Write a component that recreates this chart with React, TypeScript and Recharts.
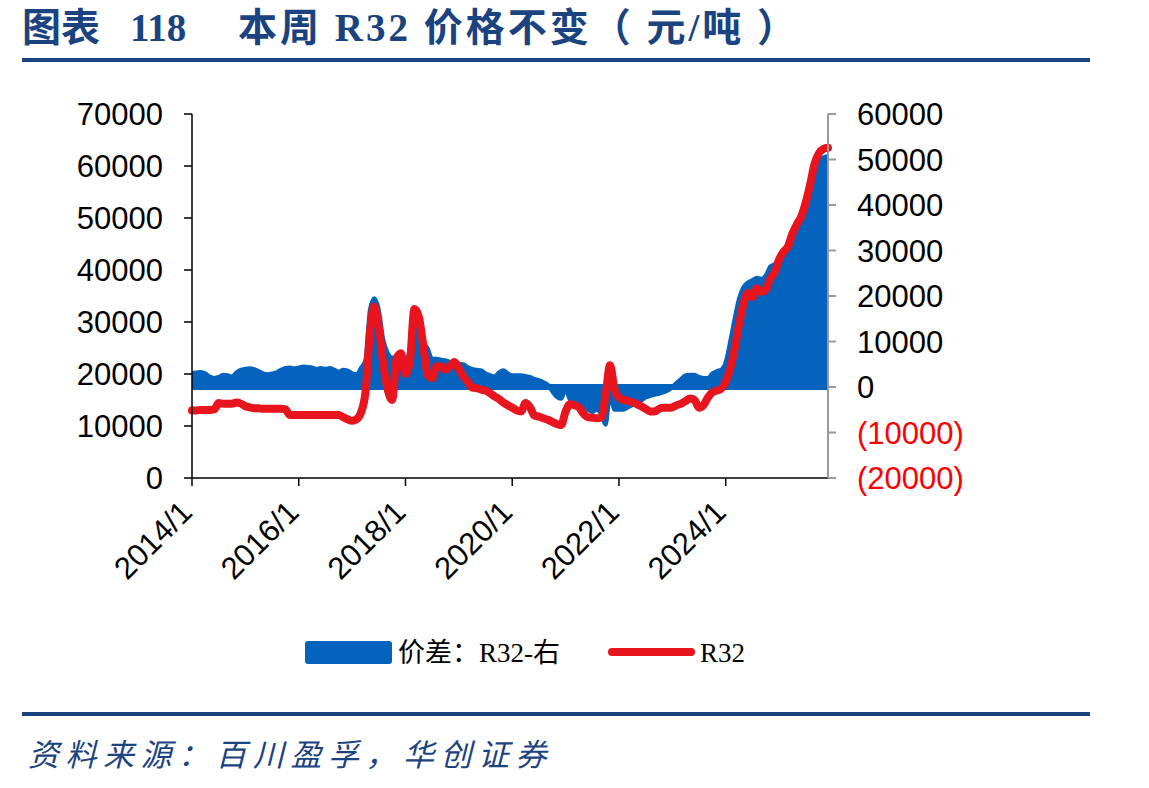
import { ComposedChart, Area, Line, XAxis, YAxis, ReferenceLine } from "recharts";

// monthly readings, 2014/1 .. 2025/12
const START_YEAR = 2014;

// R32 price, yuan/ton (left axis)
const r32 = [
  13000, 13000, 13100, 13100, 13100, 13200, 14400, 14300, 14300, 14300, 14500, 14300,
  13800, 13600, 13400, 13400, 13300, 13300, 13300, 13300, 13300, 13200, 12100, 12100,
  12100, 12100, 12100, 12100, 12100, 12100, 12100, 12100, 12100, 12100, 11700, 11300,
  11000, 11300, 12600, 16500, 28000, 33000, 29000, 22000, 17000, 15000, 23000, 24000,
  20000, 22500, 32500, 31000, 25500, 19800, 19200, 21500, 21500, 20800, 21500, 22300,
  21000, 19500, 18500, 17400, 17300, 17000, 16800, 16300, 15700, 15200, 14500, 14000,
  13500, 13000, 12800, 14400, 13600, 12000, 11800, 11500, 11200, 10800, 10400, 10200,
  12800, 14200, 14000, 13600, 12400, 11700, 11600, 11500, 11600, 16000, 21700, 17000,
  15500, 15000, 14900, 14600, 14200, 13800, 13300, 12800, 12800, 13300, 13500, 13500,
  13600, 14000, 14300, 14800, 15300, 15000, 13500, 14000, 15500, 16500, 16800, 17200,
  18500, 21000, 24800, 29500, 33500, 35600, 34800, 36500, 35800, 36200, 38300, 39500,
  42000, 43500, 44500, 47000, 48800, 50300, 53000, 56500, 60500, 62500, 63300, 63500,
];

// spread vs. R32 cost, yuan/ton (right axis)
const spread = [
  3100, 3200, 3300, 3000, 2300, 2000, 2200, 2700, 2600, 2300, 3200, 3800,
  4000, 4100, 3900, 3500, 3000, 2800, 3000, 3200, 3800, 4200, 4300, 4100,
  4300, 4500, 4400, 4300, 4000, 4200, 4000, 4200, 3800, 3400, 3800, 3600,
  3000, 2800, 4200, 6000, 17000, 19500, 17000, 10500, 7500, 6500, 6500, 7000,
  6000, 8000, 14000, 16000, 10000, 8500, 6200, 6200, 6000, 5900, 5500, 5300,
  5100, 5000, 4400, 4000, 3800, 3700, 3000, 2600, 2300, 3200, 3700, 3000,
  2600, 2600, 2600, 2400, 2200, 1800, 1500, 1100, 500, -1000, -2200, -2600,
  -600, -2800, -3200, -4200, -4500, -5000, -5500, -5000, -6000, -8300, -2000, -5000,
  -5000, -5000, -4500, -4000, -3500, -3000, -2300, -2000, -1700, -1500, -1200, -800,
  0, 1000, 1800, 2600, 2700, 2700, 2200, 2000, 2000, 3000, 3500, 3800,
  5500, 10000, 15000, 19500, 22000, 23000, 23500, 24000, 23800, 24500, 26500, 27000,
  28000, 29500, 31500, 33500, 36000, 38500, 41000, 44500, 47500, 49900, 50500, 50800,
];

const xTickLabels = ["2014/1", "2016/1", "2018/1", "2020/1", "2022/1", "2024/1"];
const leftTicks = [0, 10000, 20000, 30000, 40000, 50000, 60000, 70000];
const rightTicks = [-20000, -10000, 0, 10000, 20000, 30000, 40000, 50000, 60000];

const months = r32.map((_, i) => `${START_YEAR + Math.floor(i / 12)}/${(i % 12) + 1}`);
const data = months.map((m, i) => ({ i, month: m, r32: r32[i], spread: spread[i] }));
const xTicks = xTickLabels.map((l) => months.indexOf(l));

const BLUE = "#0563BD";
const RED = "#E8141E";
const NAVY = "#1B437F";
const SANS = "'Liberation Sans', Arial, sans-serif";
const SERIF = "'Liberation Serif', 'Noto Sans CJK SC', serif";

const XTick = (props: any) => {
  const { x, y, payload } = props;
  const ax = x + 2;
  const ay = y + 28;
  return (
    <text x={ax} y={ay} transform={`rotate(-45, ${ax}, ${ay})`} textAnchor="end" fontSize={31} fontFamily={SANS} fill="#000">
      {months[payload.value]}
    </text>
  );
};

const RightTick = (props: any) => {
  const { x, y, payload } = props;
  const v = payload.value as number;
  const neg = v < 0;
  return (
    <text x={x} y={y} dy="0.355em" textAnchor="start" fontSize={31} fontFamily={SANS} fill={neg ? "#FF0000" : "#000"}>
      {neg ? `(${Math.abs(v)})` : v}
    </text>
  );
};

const titleStyle = {
  position: "absolute" as const,
  top: 4,
  lineHeight: "48px",
  fontFamily: SERIF,
  fontWeight: 700,
  fontSize: 39,
  color: NAVY,
  whiteSpace: "pre" as const,
};

const legendText = {
  position: "absolute" as const,
  top: 636,
  lineHeight: "34px",
  fontFamily: SERIF,
  fontSize: 27,
  color: "#000",
  whiteSpace: "pre" as const,
};

export default function App() {
  return (
    <div style={{ position: "absolute", left: 0, top: 0, width: 1149, height: 788, background: "#fff" }}>
      <div style={{ ...titleStyle, left: 22 }}>图表</div>
      <div style={{ ...titleStyle, left: 130 }}>118</div>
      <div style={{ ...titleStyle, left: 238, letterSpacing: 3 }}>本周 R32 价格不变（ 元/吨 ）</div>
      <div style={{ position: "absolute", left: 22, top: 58, width: 1068, height: 4, background: NAVY }} />

      <div style={{ position: "absolute", left: 0, top: 0 }}>
        <ComposedChart width={1149} height={788} data={data} margin={{ top: 114, right: 121, bottom: 210, left: 92 }}>
          <XAxis
            dataKey="i"
            type="number"
            domain={[0, 143]}
            ticks={xTicks}
            tick={<XTick />}
            tickSize={8}
            tickMargin={0}
            height={100}
            axisLine={{ stroke: "#000", strokeWidth: 1.5 }}
            tickLine={{ stroke: "#000", strokeWidth: 1.5 }}
            interval={0}
          />
          <YAxis
            yAxisId="left"
            orientation="left"
            domain={[0, 70000]}
            ticks={leftTicks}
            width={100}
            tickSize={8}
            tickMargin={21}
            tick={{ fontSize: 31, fontFamily: SANS, fill: "#000" }}
            axisLine={{ stroke: "#000", strokeWidth: 1.5 }}
            tickLine={{ stroke: "#000", strokeWidth: 1.5 }}
            interval={0}
          />
          <YAxis
            yAxisId="right"
            orientation="right"
            domain={[-20000, 60000]}
            ticks={rightTicks}
            width={200}
            tickSize={8}
            tickMargin={21}
            tick={<RightTick />}
            axisLine={{ stroke: "#999", strokeWidth: 2 }}
            tickLine={{ stroke: "#999", strokeWidth: 2 }}
            interval={0}
          />
          <Area
            yAxisId="right"
            dataKey="spread"
            type="monotone"
            baseValue={0}
            fill={BLUE}
            fillOpacity={1}
            stroke={BLUE}
            strokeWidth={4}
            isAnimationActive={false}
          />
          <ReferenceLine yAxisId="right" y={0} stroke={BLUE} strokeWidth={6} />
          <Line
            yAxisId="left"
            dataKey="r32"
            type="monotone"
            stroke={RED}
            strokeWidth={8}
            strokeLinejoin="round"
            strokeLinecap="round"
            dot={false}
            isAnimationActive={false}
          />
        </ComposedChart>
      </div>

      <div style={{ position: "absolute", left: 305, top: 641, width: 87, height: 23, background: BLUE, borderRadius: 3 }} />
      <div style={{ ...legendText, left: 398 }}>价差：R32-右</div>
      <div style={{ position: "absolute", left: 608, top: 648, width: 87, height: 8, background: RED, borderRadius: 4 }} />
      <div style={{ ...legendText, left: 700 }}>R32</div>

      <div style={{ position: "absolute", left: 22, top: 712, width: 1068, height: 4, background: NAVY }} />
      <div style={{ position: "absolute", left: 28, top: 730, fontFamily: SERIF, fontStyle: "italic", fontSize: 31, letterSpacing: 6.5, color: NAVY, whiteSpace: "pre" }}>
        资料来源：百川盈孚，华创证券
      </div>
    </div>
  );
}
